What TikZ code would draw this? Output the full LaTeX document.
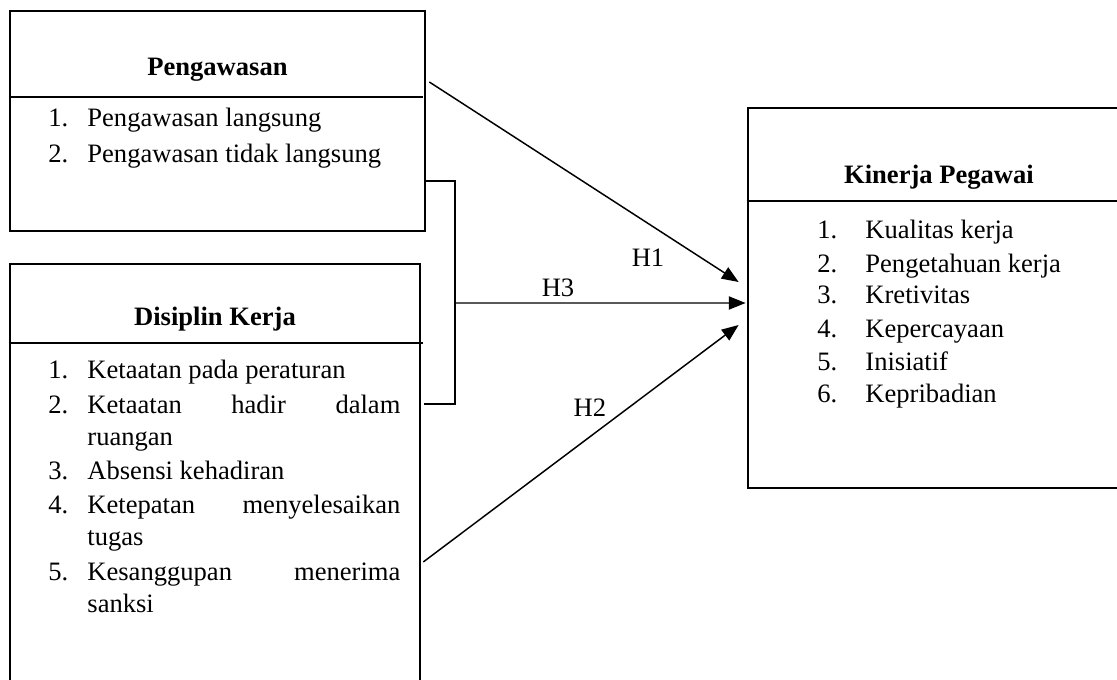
\documentclass[tikz,border=0pt]{standalone}
\usepackage{fontspec}
\setmainfont{Liberation Serif}
\usetikzlibrary{arrows.meta}
\newcommand{\bodysize}{\fontsize{12.6}{15}\selectfont}

\begin{document}
\begin{tikzpicture}[
    font=\bodysize,
    box/.style={draw, rectangle, line width=1.3pt, inner sep=0pt},
    item/.style={anchor=west, inner sep=0pt, text height=0.7em, text depth=0.2em},
    head/.style={font=\bodysize\bfseries, inner sep=0pt, text height=0.7em, text depth=0.2em},
    sep/.style={line width=0.7pt},
    >={Triangle[length=0.28cm,width=0.22cm]},
    link/.style={->, line width=0.7pt}
  ]
    \useasboundingbox (0,0) rectangle (18.617,-11.317);
    \clip (0,0) rectangle (18.617,-11.317);

    % Pengawasan
    \node[box, minimum width=6.917cm, minimum height=3.667cm] (peng) at (3.625,-2.017) {};
    \draw[sep] (peng.west |- 0,-1.617) -- (7.05,-1.617);
    \node[head] (pengT) at (3.625,-1.167) {Pengawasan};
    \node[item] (pengN1) at (0.8,-2.017) {1.};
    \node[item] (pengI1) at (1.45,-2.017) {Pengawasan langsung};
    \node[item] (pengN2) at (0.8,-2.617) {2.};
    \node[item] (pengI2) at (1.45,-2.617) {Pengawasan tidak langsung};

    % Disiplin kerja
    \node[box, minimum width=6.833cm, minimum height=7.267cm] (disc) at (3.583,-8.033) {};
    \draw[sep] (disc.west |- 0,-5.717) -- (7.05,-5.717);
    \node[head] (discT) at (3.583,-5.333) {Disiplin Kerja};
    \node[item] (discN1) at (0.8,-6.217) {1.};
    \node[item] (discI1) at (1.45,-6.217) {Ketaatan pada peraturan};
    \node[item] (discN2) at (0.8,-6.8) {2.};
    \node[item] (discI2) at (1.45,-6.8) {\makebox[5.217cm][s]{Ketaatan hadir dalam}};
    \node[item] (discI2b) at (1.45,-7.333) {ruangan};
    \node[item] (discN3) at (0.8,-7.9) {3.};
    \node[item] (discI3) at (1.45,-7.9) {Absensi kehadiran};
    \node[item] (discN4) at (0.8,-8.467) {4.};
    \node[item] (discI4) at (1.45,-8.467) {\makebox[5.217cm][s]{Ketepatan menyelesaikan}};
    \node[item] (discI4b) at (1.45,-9.0) {tugas};
    \node[item] (discN5) at (0.8,-9.583) {5.};
    \node[item] (discI5) at (1.45,-9.583) {\makebox[5.217cm][s]{Kesanggupan menerima}};
    \node[item] (discI5b) at (1.45,-10.117) {sanksi};

    % Kinerja pegawai
    \node[box, minimum width=6.367cm, minimum height=6.333cm] (kin) at (15.65,-4.967) {};
    \draw[sep] (kin.west |- 0,-3.35) -- (kin.east |- 0,-3.35);
    \node[head] (kinT) at (15.65,-2.967) {Kinerja Pegawai};
    \node[item] (kinN1) at (13.617,-3.883) {1.};
    \node[item] (kinI1) at (14.417,-3.883) {Kualitas kerja};
    \node[item] (kinN2) at (13.617,-4.45) {2.};
    \node[item] (kinI2) at (14.417,-4.45) {Pengetahuan kerja};
    \node[item] (kinN3) at (13.617,-4.967) {3.};
    \node[item] (kinI3) at (14.417,-4.967) {Kretivitas};
    \node[item] (kinN4) at (13.617,-5.533) {4.};
    \node[item] (kinI4) at (14.417,-5.533) {Kepercayaan};
    \node[item] (kinN5) at (13.617,-6.083) {5.};
    \node[item] (kinI5) at (14.417,-6.083) {Inisiatif};
    \node[item] (kinN6) at (13.617,-6.617) {6.};
    \node[item] (kinI6) at (14.417,-6.617) {Kepribadian};

    % Hypotheses
    \coordinate (brk) at (7.583,-5.05);
    \draw[line width=0.6pt] ([xshift=-0.033cm,yshift=-1cm]peng.east) -| (brk)
        |- ([xshift=0.05cm,yshift=1.3cm]disc.east);
    \draw[link] ([xshift=0.05cm,yshift=0.65cm]peng.east) -- ([xshift=-0.133cm,yshift=0.267cm]kin.west);
    \draw[link] (brk) -- ([xshift=-0.017cm,yshift=-0.083cm]kin.west);
    \draw[link] ([xshift=0.033cm,yshift=-1.333cm]disc.east) -- ([xshift=-0.133cm,yshift=-0.45cm]kin.west);
    \node (h1) at (10.8,-4.3) {H1};
    \node (h3) at (9.3,-4.8) {H3};
    \node (h2) at (9.833,-6.8) {H2};
\end{tikzpicture}
\end{document}
